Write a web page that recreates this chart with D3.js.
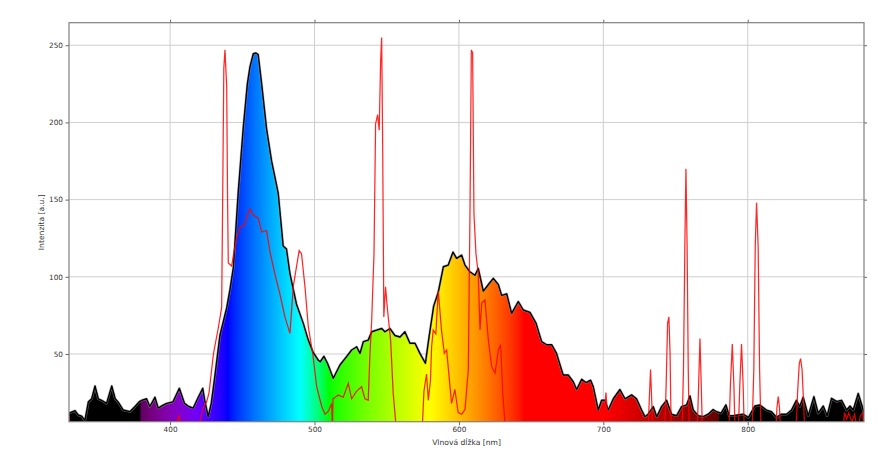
<!DOCTYPE html>
<html><head><meta charset="utf-8">
<script src="https://cdn.jsdelivr.net/npm/d3@7"></script>
<style>body{margin:0;background:#fff}svg{display:block}text{font-family:"DejaVu Sans",sans-serif}</style>
</head><body><svg id="c" width="886" height="452"></svg>
<script>
// ---- data ----
const specNm = [330,332,334.2,336.4,338.8,341,343.4,345.7,348,350.3,352.6,356,359.6,362,364,367.6,372.3,375.7,378.5,380.3,383.7,386,389.5,391.8,394.5,397.6,402,406.4,410,413,416,419.5,422.6,424,426.4,428.5,430.5,434.5,439.2,441.5,443.8,447.2,450.7,453.5,455.3,457.6,459.5,461,463.4,466.8,470.3,472.5,474.9,478.3,480.6,483,487.6,492.2,495.7,499.1,502.6,504,506.5,509,513,517.6,522.2,525.7,529.2,531.5,533.8,537.2,539.6,543,546.5,548.8,552.3,555.7,559.2,562.6,566.1,569.6,573,576.8,579,582.5,585.7,589.2,592.6,595.9,598.4,601.9,604.2,607.6,611.1,613.4,616.9,620.4,623.8,627.3,629.6,633.1,636.5,641.1,644.6,649.2,653.4,657.3,660.8,664.3,667.6,670,672.2,675.7,679.2,681.5,685,688,691.2,693,696.5,698.8,701.1,703.4,706.9,711.5,715,719.6,723,726.5,728.8,731,734.6,737,740.3,743.8,747.2,750.7,754.2,757.6,760,762.3,765.7,769.2,772.6,776,778.5,781.5,784.9,787.2,789.9,793,796.8,800.5,804.9,808.4,813,816.5,819.9,823.3,826.8,830.3,833.7,836,838.4,841.9,845.8,848.8,852.3,855,858,861.5,865,868.5,870.8,873,876.5,878.8,880.5];
const specVal = [11.6,12.5,13.3,10.5,9.8,7,19,21,29.3,21,20,18,29.3,21,19,13.7,12.7,16,19,20,21,16,22,15,16.5,18,19,27.8,18,16,15,22,27.8,20,9.5,18,32,62,80,92,106,155,197,225,236,244.5,245,244,225,196,175,165,154,120,118,102,82,70,59,51,46,45,48.5,44,34.3,42.9,48.3,52.6,54.7,50.4,58,59,64.4,65.5,66.5,64.4,66.5,62,61,64.4,57,57,50.4,44,59,81,90,106.5,107.6,116,112,114,107.6,103.3,101,105.4,90.7,95,99,95,88,89,76.3,84,78.5,77,70,58,56,56,50.4,43,36.4,36.4,32,27,33.6,31.5,33,29,13.7,20,20,13.7,21,27,21,23.5,21,13.7,9.4,11,15.9,9.4,15.9,20,11,10,15.9,17,22.8,13.7,10,9.4,11,14,12.6,11.7,17,10,10,10.5,11,9,16.3,17,13.7,12.6,9,11,11,13.7,20,16,22,10,22.4,11.7,16.3,10,21.3,19.3,20,13.7,16.3,13.7,24.5,17.5,12];

const refNm = [330,331,403,404.5,406,407.5,409,418,420.7,423,425.3,427,430,433.4,435.7,436.5,437.2,438,439.2,439.8,440.3,442.6,444.9,446,448.4,451.8,453.5,455.3,457.6,461,463.4,466.8,469,472.5,476,479.5,483,485.3,487.6,489.4,491,493.4,495.7,499,501.5,505,507.3,509.6,511.9,512.4,512.8,516.5,519.9,523.4,525.7,529.2,532.6,534.9,537.2,538.4,539.6,541.2,542.3,543.7,544.8,545.8,546.5,547.2,548,549.2,550.4,551.5,552.7,554.5,556.4,557.5,574.5,575.3,575.8,577.6,578.8,580.3,581.1,582.2,584,585.7,588,589.9,591.5,594.9,597.2,599.5,601.9,604.2,606.5,607.7,608.6,609.5,610.4,611.8,613.4,614.6,615.8,618,620.4,622.7,625,627.3,628.9,630.3,631.9,633,700.5,701,701.8,702.6,703,731,731.8,732.7,733.5,734.2,742.5,743.5,744.5,745.4,746.2,747,754.5,755.5,756.5,757.2,758,758.8,759.5,765,766,766.9,767.8,768.6,787,788,789.3,790.4,791.2,793.5,794.5,795.7,796.8,797.6,803,804.2,805.2,806.1,807.2,808.2,809.2,819.5,820.2,821.1,822,822.7,833.5,834.5,835.7,836.6,837.6,838.6,839.5,866,867,868.5,870,872,874,876,878,879.5,880.5];
const refVal = [10,0,0,5,10,5,0,0,6,15,19,25,50,67,80,160,235,247,223,150,109,107,119.5,125,132,134,140,144,140,138,129,130,117,102,89,74,63.4,93.6,107,117,115,93.6,67.7,48.7,28.8,16,11,13,18,0,21,23.4,22,31,21,26,28.8,21,20,50,72,115,199,205,195,240,255,186,74,93.6,80,70,59,24.5,4,0,0,16,26,37,20,33,54.7,65.5,63,91,65,50.4,52.6,18,27,12,11,14,39.6,145,247,245,141,115,102,65.5,83,85,59,41.8,37.5,52.6,56,25,5,0,0,15,25,15,0,0,20,40,20,0,0,30,70,74,50,0,0,40,124,170,120,40,0,0,30,60,30,0,0,30,56.5,30,0,0,30,56.5,30,0,0,40,120,148,120,40,0,0,15,22.4,15,0,0,25,44,47,40,20,0,0,12,8,12,6,11,0,10,12,0];

const xTicks = [400,500,600,700,800];
const yTicks = [50,100,150,200,250];
const xLabel = "Vlnová dĺžka [nm]";
const yLabel = "Intenzita [a.u.]";

// ---- layout ----
const L=69, R=864, T=22.7, B=421.7;
const svg = d3.select("#c");
const x = d3.scaleLinear().domain([330,880.5]).range([L,R]);
const y = d3.scaleLinear().domain([6.15,264.6]).range([B,T]);

function waveColor(w){
  const g=0.8; let r=0,gg=0,b=0,f=0;
  if(w>=380&&w<440){r=-(w-440)/60;b=1;}
  else if(w>=440&&w<490){gg=(w-440)/50;b=1;}
  else if(w>=490&&w<510){gg=1;b=-(w-510)/20;}
  else if(w>=510&&w<580){r=(w-510)/70;gg=1;}
  else if(w>=580&&w<645){r=1;gg=-(w-645)/65;}
  else if(w>=645&&w<=780){r=1;}
  if(w>=380&&w<420) f=0.3+0.7*(w-380)/40;
  else if(w>=420&&w<700) f=1;
  else if(w>=700&&w<=780) f=0.3+0.7*(780-w)/80;
  const c=v=>Math.round(255*Math.pow(v*f,g)||0);
  return `rgb(${c(r)},${c(gg)},${c(b)})`;
}

const defs = svg.append("defs");
defs.append("clipPath").attr("id","plot").append("rect")
  .attr("x",L).attr("y",T).attr("width",R-L).attr("height",B-T);
const grad = defs.append("linearGradient").attr("id","spec")
  .attr("gradientUnits","userSpaceOnUse")
  .attr("x1",x(330)).attr("x2",x(880.5)).attr("y1",0).attr("y2",0);
const stops=[];
for(let w=330;w<=880;w+=1){stops.push(w); if(w===379||w===780) stops.push(w+0.01);}
stops.forEach(w=>{
  grad.append("stop").attr("offset",((w-330)/(880.5-330)).toFixed(5)).attr("stop-color",waveColor(w));
});

// grid
const g = svg.append("g");
g.selectAll(".gx").data(xTicks).enter().append("line")
  .attr("x1",d=>x(d)).attr("x2",d=>x(d)).attr("y1",T).attr("y2",B)
  .attr("stroke","#cfcfcf").attr("stroke-width",1);
g.selectAll(".gy").data(yTicks).enter().append("line")
  .attr("y1",d=>y(d)).attr("y2",d=>y(d)).attr("x1",L).attr("x2",R)
  .attr("stroke","#cfcfcf").attr("stroke-width",1);

const spec = specNm.map((n,i)=>[n,specVal[i]]);
const ref = refNm.map((n,i)=>[n,refVal[i]]);
const plot = svg.append("g").attr("clip-path","url(#plot)");
plot.append("path").datum(spec)
  .attr("d",d3.area().x(d=>x(d[0])).y0(B+2).y1(d=>y(d[1])))
  .attr("fill","url(#spec)");
plot.append("path").datum(spec)
  .attr("d",d3.line().x(d=>x(d[0])).y(d=>y(d[1])))
  .attr("fill","none").attr("stroke","#999").attr("stroke-width",2.6).attr("stroke-opacity",0.6).attr("stroke-linejoin","round");
plot.append("path").datum(spec)
  .attr("d",d3.line().x(d=>x(d[0])).y(d=>y(d[1])))
  .attr("fill","none").attr("stroke","#000").attr("stroke-width",1.4).attr("stroke-linejoin","round");
plot.append("path").datum(ref)
  .attr("d",d3.line().x(d=>x(d[0])).y(d=>y(d[1])))
  .attr("fill","none").attr("stroke","#ff0000").attr("stroke-width",1.25).attr("stroke-opacity",0.85);

// axes
const fmt=d3.format("d");
const ax = svg.append("g");
ax.append("g").attr("transform",`translate(0,${B})`).call(d3.axisBottom(x).tickValues(xTicks).tickFormat(fmt).tickSize(3.5).tickPadding(2));
ax.append("g").attr("transform",`translate(0,${T})`).call(d3.axisTop(x).tickValues(xTicks).tickFormat("").tickSize(3));
ax.append("g").attr("transform",`translate(${L},0)`).call(d3.axisLeft(y).tickValues(yTicks).tickFormat(fmt).tickSize(3.5).tickPadding(2.5));
ax.append("g").attr("transform",`translate(${R},0)`).call(d3.axisRight(y).tickValues(yTicks).tickFormat("").tickSize(3));
ax.selectAll(".domain").remove();
ax.selectAll(".tick line").attr("stroke","#666");
ax.selectAll(".tick text").attr("fill","#333").style("font-size","7.3px").style("font-family","DejaVu Sans");
svg.append("rect").attr("x",L).attr("y",T).attr("width",R-L).attr("height",B-T)
  .attr("fill","none").attr("stroke","#808080").attr("stroke-width",1.2);

svg.append("text").attr("x",(L+R)/2).attr("y",444.5).attr("text-anchor","middle")
  .attr("fill","#333").style("font-size","7.6px").text(xLabel);
svg.append("text").attr("transform",`translate(43.5,${(T+B)/2}) rotate(-90)`).attr("text-anchor","middle")
  .attr("fill","#333").style("font-size","7.6px").text(yLabel);
</script></body></html>
